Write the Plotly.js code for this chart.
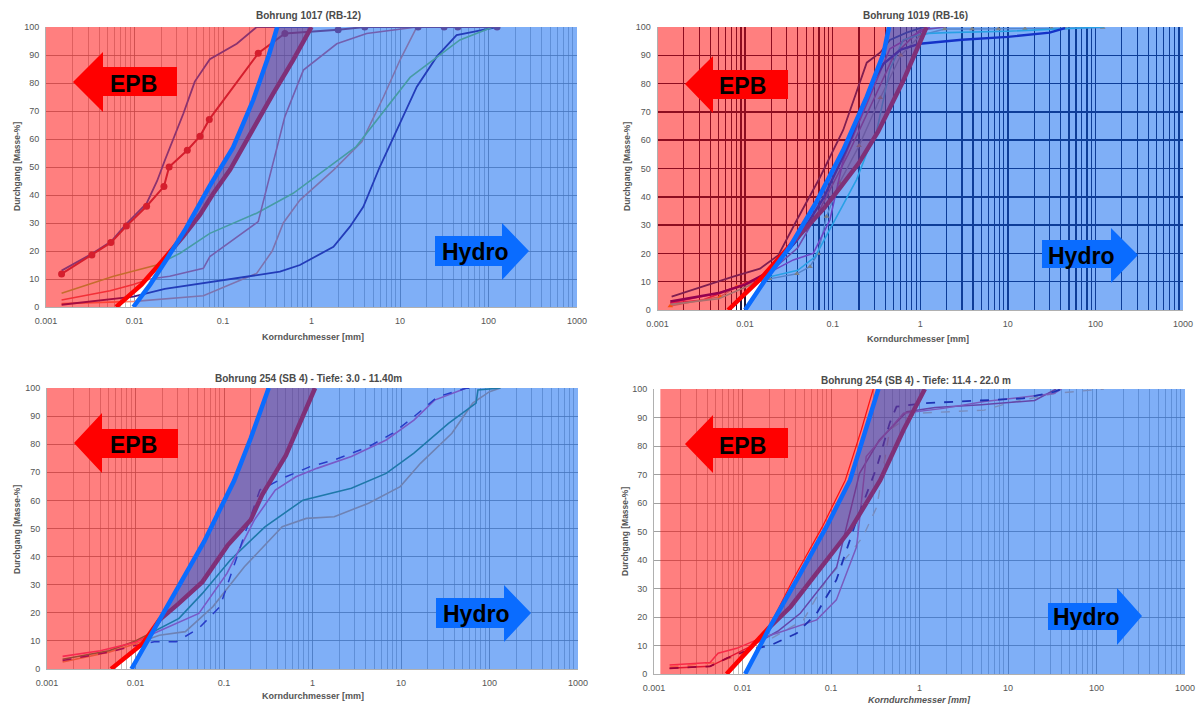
<!DOCTYPE html>
<html><head><meta charset="utf-8">
<script src="https://cdn.plot.ly/plotly-3.0.1.min.js"></script>
<style>html,body{margin:0;padding:0;background:#fff}#chart{width:1200px;height:704px}</style>
</head><body><div id="chart"></div>
<script>
// ---------- tick labels / titles ----------
const xTickVals = [0.001, 0.01, 0.1, 1, 10, 100, 1000];
const xTickText = ['0.001', '0.01', '0.1', '1', '10', '100', '1000'];
const yTickVals = [0, 10, 20, 30, 40, 50, 60, 70, 80, 90, 100];
const plotTitles = ['Bohrung 1017 (RB-12)', 'Bohrung 1019 (RB-16)',
  'Bohrung 254 (SB 4) - Tiefe: 3.0 - 11.40m', 'Bohrung 254 (SB 4) - Tiefe: 11.4 - 22.0 m'];
const xTitle = 'Korndurchmesser [mm]';
const yTitle = 'Durchgang [Masse-%]';
const zoneLabels = ['EPB', 'Hydro'];

// ---------- boundary curves (EPB = red, Hydro = blue) ----------
const p1BlueX = [0.0097, 0.015, 0.023, 0.038, 0.07, 0.13, 0.22, 0.33, 0.41];
const p1BlueY = [0, 8, 17, 28, 43, 57, 74, 90, 100];
const p1RedX = [0.0062, 0.012, 0.02, 0.029, 0.035, 0.055, 0.078, 0.12, 0.185, 0.37, 0.62, 1.0];
const p1RedY = [0, 8, 16, 22, 25, 33, 40.6, 49, 59.6, 76.3, 88.2, 100];

const p2BlueX = [0.01, 0.0169, 0.0324, 0.066, 0.132, 0.245, 0.38, 0.44];
const p2BlueY = [0, 10.5, 22.3, 38.5, 56.5, 75.3, 90.5, 100];
const p2RedX = [0.0064, 0.015, 0.03, 0.05, 0.08, 0.12, 0.2, 0.33, 0.64, 1.18];
const p2RedY = [0, 11, 21.5, 29, 36, 43, 52, 63, 81, 100];

const p3BlueX = [0.009, 0.0187, 0.034, 0.06, 0.13, 0.2, 0.32];
const p3BlueY = [0, 17.5, 32, 45.5, 67, 82, 100];
const p3RedX = [0.0053, 0.012, 0.0187, 0.03, 0.057, 0.11, 0.2, 0.27, 0.5, 1.07];
const p3RedY = [0, 9, 17.5, 23, 31, 44, 53, 62, 76, 100];

const p4BlueX = [0.0107, 0.0205, 0.041, 0.089, 0.164, 0.25, 0.343];
const p4BlueY = [0, 16.6, 33, 51.7, 68, 85.6, 100];
const p4RedX = [0.0066, 0.0196, 0.035, 0.069, 0.164, 0.36, 0.66, 1.15];
const p4RedY = [0, 16, 23.6, 35.3, 50.5, 68, 85.6, 100];
const p4ThinX = [0.0196, 0.037, 0.08, 0.145, 0.22, 0.30];
const p4ThinY = [16, 33, 51.7, 68, 85.6, 100];

// ---------- grain size curves, plot 1 (Bohrung 1017) ----------
const c1aX = [0.0015, 0.0033, 0.0054, 0.0081, 0.0137, 0.0215, 0.0246, 0.0395, 0.055, 0.07, 0.25, 0.5, 2, 4, 16, 31.5, 45, 125];
const c1aY = [11.8, 18.6, 23, 28.9, 36, 43, 50, 56, 61, 67, 90.6, 97.7, 99, 100, 100, 100, 100, 100];
const c1bX = [0.0015, 0.0033, 0.0055, 0.008, 0.0137, 0.018, 0.0221, 0.0356, 0.048, 0.071, 0.143, 0.24, 1];
const c1bY = [13, 19, 23.5, 29.5, 37, 45, 52.5, 69, 80.5, 88.5, 94, 100, 100];
const c1cX = [0.0015, 0.0058, 0.0178, 0.0327, 0.071, 0.24, 0.62, 1.48, 3.2, 13, 47.5, 112];
const c1cY = [4.9, 11, 15, 19.2, 26.3, 33.5, 40.6, 49.5, 57.3, 82, 95.4, 100];
const c1dX = [0.0015, 0.0053, 0.0097, 0.015, 0.025, 0.06, 0.071, 0.25, 0.5, 0.81, 1.93, 4.2, 15.5];
const c1dY = [2.5, 5.8, 8, 10, 11, 13.8, 18, 30.5, 68, 84.6, 94, 97.7, 100];
const c1eX = [0.0015, 0.01, 0.06, 0.24, 0.36, 0.48, 0.74, 1.77, 3.7, 6.5, 10, 15.5];
const c1eY = [1.2, 2, 4, 12, 20, 30, 38.2, 48.9, 59, 75, 88.2, 100];
const c1fX = [0.0015, 0.0097, 0.022, 0.06, 0.2, 0.44, 0.74, 1.2, 1.77, 2.72, 3.85, 5.9, 9.2, 15.5, 26, 43.6, 67, 125];
const c1fY = [0.8, 3.7, 6.5, 8.5, 11, 12.6, 15, 18.5, 21.5, 28.7, 35.8, 50, 63.2, 78.7, 89.4, 97.1, 98.3, 100];

// ---------- plot 2 (Bohrung 1019) ----------
const c2aX = [0.00145, 0.0073, 0.0148, 0.024, 0.039, 0.072, 0.132, 0.245, 0.35, 0.45, 0.7, 1.1];
const c2aY = [4.7, 11.8, 14.6, 19.4, 31.8, 47, 63.6, 87.4, 91, 95.4, 98, 100];
const c2bX = [0.0014, 0.0033, 0.0073, 0.0148, 0.024, 0.04, 0.07, 0.15, 0.3, 0.5, 1, 2];
const c2bY = [2.4, 3.5, 7.7, 11.7, 16, 22, 35, 55, 75, 90, 99, 100];
const c2cX = [0.0014, 0.0052, 0.008, 0.019, 0.039, 0.055, 0.068, 0.085, 0.12, 0.2, 0.35, 0.6, 1.0, 1.9, 3.9, 7.8, 15.7, 31.6, 45, 121];
const c2cY = [1.4, 4.7, 8.2, 11, 12.8, 15.3, 20, 33, 45, 58, 75, 90, 97, 99.3, 99.3, 99.3, 99.4, 99.5, 99.6, 99.8];
const c2dX = [0.0014, 0.005, 0.0187, 0.04, 0.063, 0.095, 0.187, 0.245, 0.317, 0.45, 0.64, 1.05, 2, 10, 45, 125];
const c2dY = [2, 4, 11.7, 14, 18.8, 29, 46, 55.4, 63, 85, 95.4, 97.6, 98, 98.5, 99.5, 100];
const c2eX = [0.0014, 0.005, 0.012, 0.0355, 0.06, 0.093, 0.132, 0.245, 0.45, 0.83, 1.29];
const c2eY = [2.5, 6, 10, 17.7, 20, 31.8, 53, 73, 92.3, 97, 100];
const c2fX = [0.0014, 0.005, 0.01, 0.02, 0.04, 0.08, 0.15, 0.28, 0.38, 0.6, 0.99, 3, 10, 30, 45];
const c2fY = [3, 6, 9, 14, 25, 40, 58, 80, 87, 92, 94.1, 95.5, 96.5, 98, 99.6];

// ---------- plot 3 (Bohrung 254, 3.0 - 11.40 m) ----------
const c3aX = [0.0015, 0.005, 0.0104, 0.0163, 0.029, 0.052, 0.09, 0.129, 0.185, 0.254, 0.5, 0.94, 1.76, 4.3, 8.1, 14, 26, 54, 70];
const c3aY = [3, 6, 8.5, 9.7, 9.7, 14.5, 22.2, 36.4, 50.6, 63.7, 68.4, 72, 74.4, 79.1, 83.9, 89.8, 96.9, 99.9, 100];
const c3bX = [0.0015, 0.004, 0.01, 0.016, 0.052, 0.108, 0.22, 0.38, 0.65, 1.12, 2.75, 6.8, 14, 24, 54];
const c3bY = [4.5, 6.5, 9.5, 12.6, 19.8, 34, 53, 63.7, 68.4, 71.4, 75.6, 81.5, 88.6, 95.7, 99.9];
const c3cX = [0.0015, 0.005, 0.01, 0.0186, 0.031, 0.057, 0.118, 0.29, 0.78, 2.75, 6.8, 14, 34.4, 70.5, 74, 133];
const c3cY = [3.5, 6.5, 10, 14.5, 18, 26.9, 38.8, 50.6, 60.1, 64.3, 69.6, 76.8, 87.4, 94.6, 99.3, 100];
const c3dX = [0.0015, 0.005, 0.01, 0.0186, 0.0366, 0.075, 0.17, 0.455, 0.85, 1.76, 4.3, 9.8, 16.6, 37.6, 64.6, 100, 133];
const c3dY = [2.5, 6, 9, 12, 13.3, 22.2, 36.4, 50.6, 53.6, 54.2, 59, 64.9, 73.2, 83.9, 94.6, 98.7, 100];

// ---------- plot 4 (Bohrung 254, 11.4 - 22.0 m) ----------
const c4aX = [0.0015, 0.0043, 0.0066, 0.012, 0.0205, 0.041, 0.069, 0.115, 0.195, 0.33, 0.46, 0.55, 1.1, 5.4, 14.8, 33, 40];
const c4aY = [2, 2.7, 5.5, 8.5, 10, 14.3, 21.3, 33, 54, 72.7, 88, 93.8, 95, 96.1, 96.7, 99, 100];
const c4bX = [0.0015, 0.0043, 0.0053, 0.0086, 0.0158, 0.0244, 0.069, 0.115, 0.195, 0.25, 0.39, 0.66, 1.86, 5.4, 33, 40];
const c4bY = [3.2, 4, 7.3, 9, 12.5, 14.3, 19, 26, 44.7, 76.3, 83.3, 91.5, 93.2, 95.6, 98.4, 100];
const c4cX = [0.0015, 0.005, 0.01, 0.02, 0.049, 0.089, 0.164, 0.23, 0.33, 0.39, 0.46, 0.66, 0.93, 5.4, 9.9, 33, 121];
const c4cY = [2.5, 4, 7, 12, 19, 33, 42.3, 48.2, 58.7, 72.7, 85.6, 89.1, 91.5, 92.6, 95, 98.4, 100];
const c4dX = [0.0015, 0.0043, 0.0066, 0.0122, 0.025, 0.045, 0.116, 0.21, 0.35, 0.72, 1.5, 5, 20, 35];
const c4dY = [2, 2.7, 5.5, 9.6, 15, 21.3, 37.6, 70.4, 82, 92, 93.5, 94.5, 96, 100];

// =================================================================
const W = 1200, H = 704;
const FONT = 'Liberation Sans, Arial, sans-serif';
const RED_FILL = 'rgba(255,0,0,0.5)';
const BLUE_FILL = 'rgba(0,95,240,0.5)';

const plots = [
  { dom: [[46, 577], [27, 307]], xl: 0.001, blueX: p1BlueX, blueY: p1BlueY, redX: p1RedX, redY: p1RedY,
    grid: '#8a8a8a', minorGrid: '#a2a2a2', gw: 0.8, mgw: 0.7,
    curves: [
      { x: c1eX, y: c1eY, c: '#fa876e', w: 1.6 },
      { x: c1fX, y: c1fY, c: '#461982', w: 1.8 },
      { x: c1cX, y: c1cY, c: '#8cd75a', w: 1.6 },
      { x: c1dX, y: c1dY, c: '#e65f6e', w: 1.6 },
      { x: c1bX, y: c1bY, c: '#1964dc', w: 1.8 },
      { x: c1aX, y: c1aY, c: '#aa3c5a', w: 2, m: { symbol: 'circle', size: 7 } }
    ] },
  { dom: [[657.5, 1183], [27, 310]], xl: 0.001, blueX: p2BlueX, blueY: p2BlueY, redX: p2RedX, redY: p2RedY,
    grid: '#1a1a40', minorGrid: '#1a1a40', gw: 1.5, mgw: 1.2,
    curves: [
      { x: c2bX, y: c2bY, c: '#d73c78', w: 1.6 },
      { x: c2cX, y: c2cY, c: '#aaaaaa', w: 1.4, m: { symbol: 'triangle-up', size: 5, color: '#f5a020' } },
      { x: c2eX, y: c2eY, c: '#dc2da0', w: 1.6 },
      { x: c2dX, y: c2dY, c: '#50e1dc', w: 1.6 },
      { x: c2fX, y: c2fY, c: '#2805a0', w: 2.4 },
      { x: c2aX, y: c2aY, c: '#003ca0', w: 1.8 }
    ] },
  { dom: [[47, 578], [388, 669]], xl: 0.001, blueX: p3BlueX, blueY: p3BlueY, redX: p3RedX, redY: p3RedY,
    grid: '#8a8a8a', minorGrid: '#a2a2a2', gw: 0.8, mgw: 0.7,
    curves: [
      { x: c3dX, y: c3dY, c: '#dca578', w: 1.6 },
      { x: c3cX, y: c3cY, c: '#3c9164', w: 1.6 },
      { x: c3bX, y: c3bY, c: '#f055a0', w: 1.6 },
      { x: c3aX, y: c3aY, c: '#5019a0', w: 1.5, d: 'dash' }
    ] },
  { dom: [[654, 1185], [389, 674]], xl: 0.00118, blueX: p4BlueX, blueY: p4BlueY, redX: p4RedX, redY: p4RedY,
    grid: '#8a8a8a', minorGrid: '#a2a2a2', gw: 0.8, mgw: 0.7,
    curves: [
      { x: c4cX, y: c4cY, c: '#f0b98c', w: 1.4, d: 'dash' },
      { x: c4dX, y: c4dY, c: '#c82d64', w: 1.5 },
      { x: c4bX, y: c4bY, c: '#f0558c', w: 1.5 },
      { x: c4aX, y: c4aY, c: '#3c0578', w: 1.8, d: 'dash' }
    ] }
];

const minorVals = [];
for (let d = -3; d <= 2; d++) for (let k = 2; k <= 9; k++) minorVals.push(+(k * Math.pow(10, d)).toPrecision(3));

const traces = [];
const layout = {
  width: W, height: H, margin: { l: 0, r: 0, t: 0, b: 0 }, showlegend: false,
  paper_bgcolor: '#ffffff', plot_bgcolor: '#ffffff',
  font: { family: FONT }, shapes: [], annotations: []
};

function px(x) { return x / W; }
function py(y) { return 1 - y / H; }

plots.forEach((p, i) => {
  const n = i + 1, sfx = n > 1 ? String(n) : '';
  const xa = 'x' + sfx, ya = 'y' + sfx;
  const base = { xaxis: xa, yaxis: ya, hoverinfo: 'skip', showlegend: false, type: 'scatter' };
  // measured curves (below the translucent zone overlays)
  p.curves.forEach(c => {
    const t = Object.assign({}, base, { x: c.x, y: c.y, mode: c.m ? 'lines+markers' : 'lines',
      line: { color: c.c, width: c.w, dash: c.d || 'solid' } });
    if (c.m) t.marker = { symbol: c.m.symbol, size: c.m.size, color: c.m.color || c.c, line: { width: 0 } };
    traces.push(t);
  });
  if (n === 4) traces.push(Object.assign({}, base, { x: p4ThinX, y: p4ThinY, mode: 'lines', line: { color: '#ff2020', width: 1.2 } }));
  // red boundary (appears purple where the Hydro overlay covers it)
  traces.push(Object.assign({}, base, { x: p.redX, y: p.redY, mode: 'lines', line: { color: '#ff0000', width: 4.5 } }));
  // EPB zone
  traces.push(Object.assign({}, base, {
    x: [p.xl, p.xl].concat(p.redX.slice().reverse()), y: [0, 100].concat(p.redY.slice().reverse()),
    mode: 'lines', fill: 'toself', fillcolor: RED_FILL, line: { width: 0, color: 'rgba(0,0,0,0)' } }));
  // Hydro zone
  traces.push(Object.assign({}, base, {
    x: p.blueX.concat([1000, 1000]), y: p.blueY.concat([100, 0]),
    mode: 'lines', fill: 'toself', fillcolor: BLUE_FILL, line: { width: 0, color: 'rgba(0,0,0,0)' } }));
  // blue boundary
  traces.push(Object.assign({}, base, { x: p.blueX, y: p.blueY, mode: 'lines', line: { color: '#0b6cff', width: 4.5 } }));

  const tickfont = { size: 9, color: '#555', family: FONT };
  layout['xaxis' + sfx] = {
    type: 'log', range: [-3, 3], domain: [px(p.dom[0][0]), px(p.dom[0][1])], anchor: ya,
    tickmode: 'array', tickvals: xTickVals, ticktext: xTickText, tickfont,
    ticks: 'outside', ticklen: 5, tickcolor: 'rgba(0,0,0,0)',
    showgrid: true, gridcolor: p.grid, gridwidth: p.gw,
    minor: { tickmode: 'array', tickvals: minorVals, showgrid: true, gridcolor: p.minorGrid, gridwidth: p.mgw, ticks: '' },
    zeroline: false, showline: true, linecolor: '#b0b0b0', linewidth: 1, fixedrange: true
  };
  layout['yaxis' + sfx] = {
    range: [0, 100], domain: [py(p.dom[1][1]), py(p.dom[1][0])], anchor: xa,
    tickmode: 'array', tickvals: yTickVals, tickfont,
    ticks: 'outside', ticklen: 4, tickcolor: 'rgba(0,0,0,0)',
    showgrid: true, gridcolor: p.grid, gridwidth: p.gw,
    zeroline: false, showline: true, linecolor: '#b0b0b0', linewidth: 1, fixedrange: true
  };
});

// ---------- decorative zone arrows ----------
function pathOf(pts) { return 'M' + pts.map(q => px(q[0]).toFixed(5) + ',' + py(q[1]).toFixed(5)).join(' L') + ' Z'; }
function leftArrow(a) {
  return [a.tip, [a.hx, a.hy[0]], [a.hx, a.by[0]], [a.bx, a.by[0]], [a.bx, a.by[1]], [a.hx, a.by[1]], [a.hx, a.hy[1]]];
}
function rightArrow(a) {
  return [[a.bx, a.by[0]], [a.hx, a.by[0]], [a.hx, a.hy[0]], a.tip, [a.hx, a.hy[1]], [a.hx, a.by[1]], [a.bx, a.by[1]]];
}
const epbArrows = [
  { tip: [73, 82], hx: 103, hy: [52, 112], bx: 177, by: [67, 96], t: [133, 84] },
  { tip: [685, 84], hx: 713, hy: [56, 113], bx: 788, by: [70, 99], t: [742, 86] },
  { tip: [74, 443], hx: 102, hy: [413, 473], bx: 178, by: [429, 458], t: [133, 445] },
  { tip: [685, 444], hx: 713, hy: [415, 473], bx: 788, by: [428, 458], t: [742, 446] }
];
const hydroArrows = [
  { bx: 435, hx: 502, by: [236, 266], hy: [223, 280], tip: [529, 251], t: [475, 252] },
  { bx: 1042, hx: 1111, by: [240, 268], hy: [228, 283], tip: [1138, 255], t: [1081, 256] },
  { bx: 436, hx: 504, by: [598, 628], hy: [585, 642], tip: [531, 613], t: [476, 614] },
  { bx: 1048, hx: 1117, by: [603, 630], hy: [588, 645], tip: [1142, 616], t: [1086, 617] }
];
epbArrows.forEach(a => {
  layout.shapes.push({ type: 'path', xref: 'paper', yref: 'paper', layer: 'above', path: pathOf(leftArrow(a)),
    fillcolor: '#ff0000', line: { width: 0 } });
  layout.annotations.push({ xref: 'paper', yref: 'paper', x: px(a.t[0]), y: py(a.t[1]), text: '<b>' + zoneLabels[0] + '</b>',
    showarrow: false, xanchor: 'center', yanchor: 'middle', font: { size: 23, color: '#000', family: FONT } });
});
hydroArrows.forEach(a => {
  layout.shapes.push({ type: 'path', xref: 'paper', yref: 'paper', layer: 'above', path: pathOf(rightArrow(a)),
    fillcolor: '#0a6cff', line: { width: 0 } });
  layout.annotations.push({ xref: 'paper', yref: 'paper', x: px(a.t[0]), y: py(a.t[1]), text: '<b>' + zoneLabels[1] + '</b>',
    showarrow: false, xanchor: 'center', yanchor: 'middle', font: { size: 23, color: '#000', family: FONT } });
});

// ---------- titles ----------
const titlePos = [[308, 15], [915, 15], [308, 378], [916, 380]];
const xTitlePos = [[313, 337], [918, 339], [313, 696], [919, 700]];
const yTitlePos = [[17, 167], [627, 167], [17, 530], [625, 532]];
plotTitles.forEach((t, i) => {
  layout.annotations.push({ xref: 'paper', yref: 'paper', x: px(titlePos[i][0]), y: py(titlePos[i][1]), text: '<b>' + t + '</b>',
    showarrow: false, xanchor: 'center', yanchor: 'middle', font: { size: 10, color: '#4a4a4a', family: FONT } });
  layout.annotations.push({ xref: 'paper', yref: 'paper', x: px(xTitlePos[i][0]), y: py(xTitlePos[i][1]),
    text: i === 3 ? '<b><i>' + xTitle + '</i></b>' : '<b>' + xTitle + '</b>',
    showarrow: false, xanchor: 'center', yanchor: 'middle', font: { size: 9, color: '#555', family: FONT } });
  layout.annotations.push({ xref: 'paper', yref: 'paper', x: px(yTitlePos[i][0]), y: py(yTitlePos[i][1]), text: '<b>' + yTitle + '</b>',
    textangle: -90, showarrow: false, xanchor: 'center', yanchor: 'middle', font: { size: 8.5, color: '#555', family: FONT } });
});

Plotly.newPlot('chart', traces, layout, { staticPlot: true, displayModeBar: false });
</script></body></html>
